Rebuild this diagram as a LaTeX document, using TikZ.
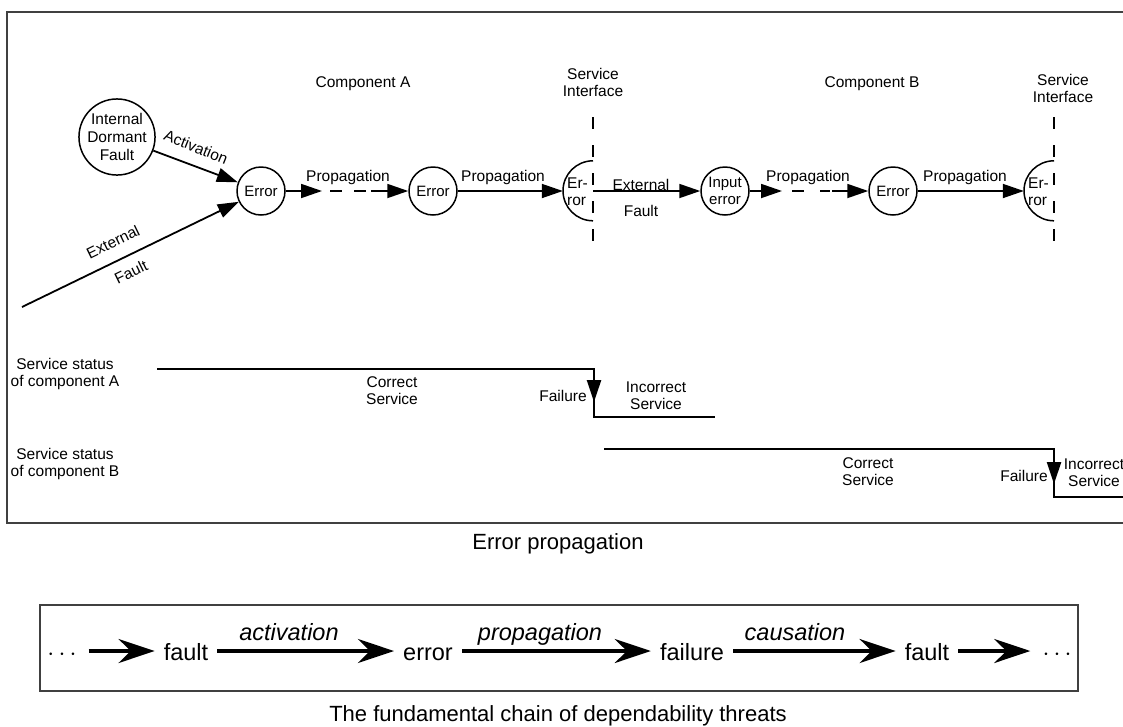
\documentclass[tikz,border=0pt]{standalone}
\usepackage{fontspec}
\setmainfont{Liberation Sans}
\usetikzlibrary{arrows.meta}
\begin{document}
\begin{tikzpicture}[x=1pt,y=-1pt,
  txt/.style={inner sep=0pt, font=\fontsize{15.5}{17}\selectfont, align=center},
  circ/.style={circle, draw, line width=1.5pt, minimum size=48pt, inner sep=0pt, font=\fontsize{15}{17}\selectfont, align=center},
  hc/.style={circle, minimum size=60pt, inner sep=0pt},
  arr/.style={line width=1.8pt, -{Triangle[length=21pt,width=14pt]}},
  dashln/.style={line width=1.8pt, dash pattern=on 12pt off 12pt},
  sidash/.style={line width=2.2pt, dash pattern=on 12pt off 16pt},
  status/.style={line width=2.4pt},
  statarr/.style={line width=2.4pt, -{Triangle[length=22pt,width=14pt]}},
  chain/.style={line width=3.6pt, -{Stealth[length=36pt,width=24pt,inset=12pt]}},
  big/.style={inner ysep=0pt, inner xsep=9pt, text height=18pt, text depth=0pt, font=\fontsize{23.5}{26}\selectfont},
  bigit/.style={inner sep=0pt, anchor=base, font=\fontsize{23.5}{26}\selectfont\itshape},
  captxt/.style={inner sep=0pt, anchor=base, font=\fontsize{22}{26}\selectfont},
  frame/.style={line width=1.2pt, draw=black!75}
]
\clip (0,0) rectangle (1123,726);
\fill[white] (0,0) rectangle (1123,726);
\draw[frame] (1130,12) -- (7,12) -- (7,523) -- (1130,523);

% --- circles
\node[circ, minimum size=72pt, font=\fontsize{15.5}{18}\selectfont] (idf) at (117,137) {Internal\\Dormant\\Fault};
\node[circ] (e1) at (261,191) {Error};
\node[circ] (e2) at (433,191) {Error};
\node[circ] (ie) at (725,191) {Input\\error};
\node[circ] (e3) at (893,191) {Error};
\node[hc] (h1) at (593,191) {};
\node[hc] (h2) at (1054,191) {};
\draw[line width=1.5pt] (h1.north) arc[start angle=90,end angle=270,radius=30pt];
\draw[line width=1.5pt] (h2.north) arc[start angle=90,end angle=270,radius=30pt];
\node[txt, align=left, anchor=west] (h1t) at (567,192) {Er-\\ror};
\node[txt, align=left, anchor=west] (h2t) at (1028,192) {Er-\\ror};

% --- service interfaces
\coordinate (s1t) at (593,117); \coordinate (s1b) at (593,242);
\coordinate (s2t) at (1054,117); \coordinate (s2b) at (1054,242);
\draw[sidash] (s1t) -- (s1b);
\draw[sidash] (s2t) -- (s2b);

% --- connectors
\coordinate (xf) at (22,307);
\draw[arr] (idf) -- (e1);
\draw[arr] (xf) -- (e1);
\coordinate (p1a) at (322,191); \coordinate (p1b) at (330,191); \coordinate (p1c) at (368,191); \coordinate (p1d) at (371,191);
\draw[arr] (e1) -- (p1a);
\draw[dashln] (p1b) -- (p1c);
\draw[arr] (p1d) -- (e2);
\draw[arr] (e2) -- (h1.west);
\draw[arr] (h1.center) -- (ie);
\coordinate (p2a) at (782,191); \coordinate (p2b) at (792,191); \coordinate (p2c) at (830,191); \coordinate (p2d) at (832,191);
\draw[arr] (ie) -- (p2a);
\draw[dashln, dash pattern=on 12pt off 16pt] (p2b) -- (p2c);
\draw[arr] (p2d) -- (e3);
\draw[arr] (e3) -- (h2.west);

% --- labels
\node[txt] (ca) at (363,84) {Component A};
\node[txt] (cb) at (872,84) {Component B};
\node[txt] (si1) at (593,82) {Service\\Interface};
\node[txt] (si2) at (1063,88) {Service\\Interface};
\node[txt, rotate=-22] (lact) at (196,147) {Activation};
\node[txt, rotate=26] (lext) at (113,242) {External};
\node[txt, rotate=26] (lxf) at (131,272) {Fault};
\node[txt] (lp1) at (348,177) {Propagation};
\node[txt] (lp2) at (503,177) {Propagation};
\node[txt] (lef1) at (641,185) {External};
\node[txt] (lef2) at (641,211) {Fault};
\node[txt] (lp3) at (808,177) {Propagation};
\node[txt] (lp4) at (965,177) {Propagation};

% --- service status
\node[txt] (ssa) at (65,374) {Service status\\of component A};
\node[txt] (ssb) at (65,464) {Service status\\of component B};
\coordinate (a0) at (157,369); \coordinate (a1) at (594,369); \coordinate (a2) at (594,417); \coordinate (a3) at (715,417); \coordinate (af) at (594,402);
\draw[status] (a0) -- (a1) -- (a2) -- (a3);
\draw[statarr] (a1) -- (af);
\coordinate (b0) at (604,449); \coordinate (b1) at (1054,449); \coordinate (b2) at (1054,497); \coordinate (b3) at (1130,497); \coordinate (bf) at (1054,484);
\draw[status] (b0) -- (b1) -- (b2) -- (b3);
\draw[statarr] (b1) -- (bf);
\node[txt] (csa) at (392,391) {Correct\\Service};
\node[txt] (fa) at (563,396) {Failure};
\node[txt] (isa) at (656,396) {Incorrect\\Service};
\node[txt] (csb) at (868,472) {Correct\\Service};
\node[txt] (fb) at (1024,476) {Failure};
\node[txt] (isb) at (1094,473) {Incorrect\\Service};

\node[captxt] (cap1) at (558,549) {Error propagation};

% --- chain
\draw[frame] (40,605) rectangle (1078,691);
\node[big, inner xsep=12pt] (d1) at (62,651) {$\cdots$};
\node[big] (f1) at (186,651) {fault};
\node[big] (er) at (428,651) {error};
\node[big] (fl) at (692,651) {failure};
\node[big] (f2) at (927,651) {fault};
\node[big, inner xsep=12pt] (d2) at (1057,651) {$\cdots$};
\draw[chain] (d1) -- (f1);
\draw[chain] (f1) -- (er);
\draw[chain] (er) -- (fl);
\draw[chain] (fl) -- (f2);
\draw[chain] (f2) -- (d2);
\node[bigit] (la) at (289,640) {activation};
\node[bigit] (lpp) at (540,640) {propagation};
\node[bigit] (lc) at (795,640) {causation};
\node[captxt] (cap2) at (558,721) {The fundamental chain of dependability threats};
\end{tikzpicture}
\end{document}
